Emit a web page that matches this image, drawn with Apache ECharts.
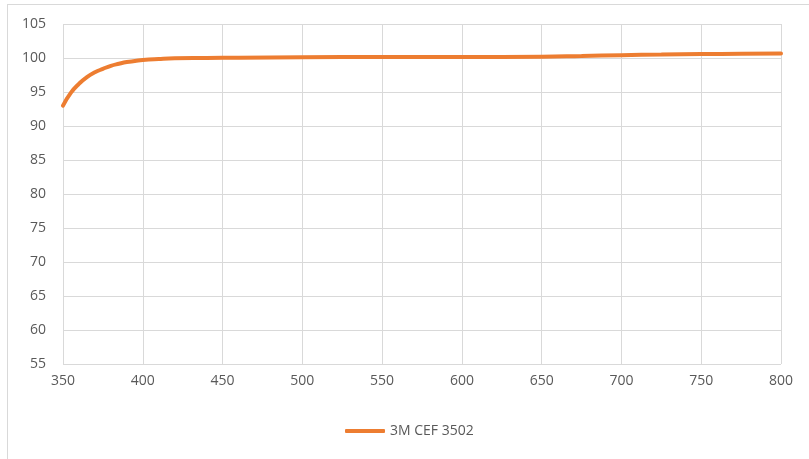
<!DOCTYPE html>
<html>
<head>
<meta charset="utf-8">
<script src="https://cdn.jsdelivr.net/npm/echarts@6/dist/echarts.min.js"></script>
<style>html,body{margin:0;padding:0;background:#fff;}#c{width:809px;height:459px;}</style>
</head>
<body>
<div id="c"></div>
<script>
const seriesName = "3M CEF 3502";
const wavelengths = [350,355,360,365,370,375,380,385,390,395,400,410,420,440,460,500,550,600,650,675,700,725,750,775,800];
const values = [93.0,94.9,96.2,97.2,97.9,98.4,98.85,99.15,99.4,99.55,99.7,99.85,99.95,100.0,100.05,100.12,100.15,100.15,100.2,100.3,100.42,100.5,100.58,100.62,100.65];
const yTicks = {min:55, max:105, interval:5};
const xTicks = {min:350, max:800, interval:50};

const chart = echarts.init(document.getElementById('c'), null, {renderer:'canvas'});
const font = "'Open Sans', 'Liberation Sans', sans-serif";
chart.setOption({
  animation:false,
  backgroundColor:'#fff',
  grid:{left:63, top:24, right:28, bottom:95, containLabel:false},
  xAxis:{type:'value', min:xTicks.min, max:xTicks.max, interval:xTicks.interval,
    axisLine:{show:false}, axisTick:{show:false},
    splitLine:{show:true, lineStyle:{color:'#D9D9D9', width:1}},
    axisLabel:{color:'#595959', fontSize:14, fontFamily:font, margin:10}},
  yAxis:{type:'value', min:yTicks.min, max:yTicks.max, interval:yTicks.interval,
    axisLine:{show:false}, axisTick:{show:false},
    splitLine:{show:true, lineStyle:{color:'#D9D9D9', width:1}},
    axisLabel:{color:'#595959', fontSize:14, fontFamily:font, margin:17}},
  legend:{bottom:16, left:340, itemWidth:40, itemHeight:4, itemGap:5,
    icon:'roundRect',
    textStyle:{color:'#595959', fontSize:14, fontFamily:font},
    data:[seriesName]},
  series:[{name:seriesName, type:'line', smooth:true, showSymbol:false,
    lineStyle:{color:'#ED7D31', width:4, cap:'round'}, itemStyle:{color:'#ED7D31'},
    data: wavelengths.map((w,i)=>[w, values[i]])}],
  graphic:[
    {type:'line', shape:{x1:7, y1:4.5, x2:809, y2:4.5}, style:{stroke:'#D9D9D9', lineWidth:1}},
    {type:'line', shape:{x1:7.5, y1:4, x2:7.5, y2:459}, style:{stroke:'#D9D9D9', lineWidth:1}}
  ]
});
</script>
</body>
</html>
